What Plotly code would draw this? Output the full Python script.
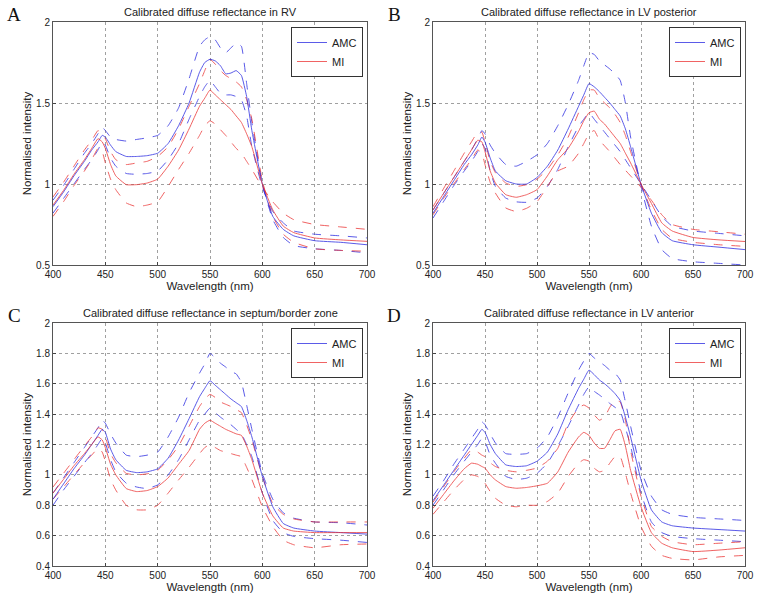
import plotly.graph_objects as go

# ---------------- data ----------------
W = [400, 410, 420, 430, 437, 443, 447, 450, 455, 460, 470, 480, 490, 500, 510, 520, 530, 540, 545,
     550, 555, 560, 565, 570, 575, 580, 585, 590, 600, 610, 620, 630, 650, 675, 700]

# Panel A: RV
A_amc_hi = [0.90, 0.99, 1.09, 1.19, 1.25, 1.31, 1.35, 1.33, 1.29, 1.275, 1.265, 1.275, 1.285, 1.30, 1.36, 1.47, 1.65, 1.85, 1.89,
            1.91, 1.89, 1.84, 1.81, 1.84, 1.87, 1.85, 1.62, 1.38, 1.00, 0.78, 0.67, 0.62, 0.60, 0.59, 0.575]
A_amc_mean = [0.86, 0.95, 1.05, 1.14, 1.21, 1.26, 1.30, 1.29, 1.24, 1.20, 1.17, 1.17, 1.175, 1.19, 1.25, 1.36, 1.50, 1.69, 1.75,
              1.77, 1.76, 1.73, 1.68, 1.685, 1.70, 1.67, 1.54, 1.33, 1.00, 0.80, 0.72, 0.68, 0.65, 0.64, 0.625]
A_amc_lo = [0.82, 0.91, 1.00, 1.09, 1.15, 1.21, 1.26, 1.24, 1.16, 1.11, 1.065, 1.06, 1.065, 1.08, 1.15, 1.25, 1.40, 1.54, 1.60,
            1.64, 1.60, 1.56, 1.55, 1.55, 1.54, 1.52, 1.42, 1.23, 0.98, 0.83, 0.76, 0.71, 0.69, 0.68, 0.667]
A_mi_hi = [0.92, 1.01, 1.11, 1.21, 1.27, 1.33, 1.31, 1.28, 1.20, 1.15, 1.12, 1.13, 1.14, 1.17, 1.23, 1.34, 1.48, 1.62, 1.70,
           1.77, 1.74, 1.70, 1.67, 1.65, 1.63, 1.60, 1.52, 1.40, 1.02, 0.80, 0.69, 0.64, 0.60, 0.59, 0.585]
A_mi_mean = [0.87, 0.96, 1.06, 1.15, 1.22, 1.28, 1.26, 1.22, 1.12, 1.05, 0.996, 0.996, 1.006, 1.03, 1.11, 1.21, 1.34, 1.48, 1.53,
             1.58, 1.55, 1.52, 1.49, 1.46, 1.42, 1.38, 1.31, 1.23, 1.00, 0.84, 0.74, 0.70, 0.667, 0.655, 0.646]
A_mi_lo = [0.80, 0.89, 0.99, 1.08, 1.15, 1.22, 1.20, 1.13, 1.03, 0.965, 0.883, 0.86, 0.87, 0.89, 0.985, 1.09, 1.19, 1.30, 1.36,
           1.39, 1.37, 1.335, 1.30, 1.26, 1.22, 1.19, 1.14, 1.09, 0.98, 0.89, 0.82, 0.78, 0.75, 0.735, 0.72]

# Panel B: LV posterior
B_amc_hi = [0.84, 0.94, 1.04, 1.14, 1.21, 1.28, 1.33, 1.31, 1.24, 1.19, 1.12, 1.11, 1.14, 1.18, 1.25, 1.36, 1.49, 1.64, 1.73,
            1.81, 1.80, 1.76, 1.735, 1.71, 1.68, 1.64, 1.50, 1.29, 0.985, 0.74, 0.595, 0.54, 0.52, 0.51, 0.50]
B_amc_mean = [0.82, 0.92, 1.02, 1.12, 1.18, 1.24, 1.29, 1.26, 1.16, 1.08, 1.02, 1.00, 1.00, 1.04, 1.11, 1.21, 1.34, 1.48, 1.55,
              1.62, 1.60, 1.57, 1.535, 1.50, 1.46, 1.42, 1.34, 1.23, 1.00, 0.82, 0.70, 0.65, 0.625, 0.61, 0.595]
B_amc_lo = [0.79, 0.89, 0.99, 1.08, 1.14, 1.20, 1.25, 1.22, 1.08, 0.985, 0.913, 0.89, 0.887, 0.913, 0.985, 1.09, 1.23, 1.356, 1.40,
            1.44, 1.40, 1.36, 1.32, 1.28, 1.24, 1.20, 1.15, 1.10, 1.00, 0.90, 0.80, 0.74, 0.71, 0.695, 0.68]
B_mi_hi = [0.86, 0.97, 1.08, 1.19, 1.26, 1.32, 1.32, 1.26, 1.14, 1.07, 1.006, 0.985, 0.996, 1.03, 1.09, 1.18, 1.29, 1.44, 1.52,
           1.58, 1.58, 1.53, 1.50, 1.47, 1.43, 1.38, 1.30, 1.20, 1.00, 0.84, 0.72, 0.665, 0.64, 0.625, 0.615]
B_mi_mean = [0.84, 0.94, 1.04, 1.14, 1.21, 1.27, 1.26, 1.20, 1.08, 1.006, 0.934, 0.918, 0.934, 0.965, 1.05, 1.15, 1.22, 1.325, 1.39,
             1.44, 1.45, 1.40, 1.37, 1.33, 1.29, 1.25, 1.19, 1.13, 1.00, 0.88, 0.76, 0.71, 0.67, 0.655, 0.645]
B_mi_lo = [0.81, 0.91, 1.00, 1.09, 1.15, 1.21, 1.19, 1.12, 1.01, 0.944, 0.852, 0.83, 0.85, 0.89, 0.985, 1.08, 1.11, 1.19, 1.25,
           1.31, 1.33, 1.27, 1.235, 1.20, 1.16, 1.12, 1.085, 1.05, 0.98, 0.90, 0.81, 0.75, 0.72, 0.705, 0.69]

# Panel C: septum/border zone
C_amc_hi = [0.88, 0.98, 1.08, 1.18, 1.25, 1.31, 1.36, 1.34, 1.27, 1.21, 1.13, 1.12, 1.13, 1.15, 1.25, 1.38, 1.54, 1.67, 1.73,
            1.80, 1.77, 1.735, 1.71, 1.68, 1.665, 1.61, 1.46, 1.30, 1.01, 0.84, 0.75, 0.715, 0.69, 0.685, 0.67]
C_amc_mean = [0.84, 0.94, 1.04, 1.13, 1.20, 1.26, 1.30, 1.28, 1.17, 1.10, 1.03, 1.015, 1.02, 1.04, 1.11, 1.23, 1.37, 1.515, 1.57,
              1.62, 1.59, 1.56, 1.53, 1.50, 1.475, 1.45, 1.36, 1.25, 0.99, 0.79, 0.68, 0.65, 0.63, 0.62, 0.61]
C_amc_lo = [0.80, 0.90, 0.99, 1.08, 1.14, 1.20, 1.24, 1.21, 1.10, 1.02, 0.945, 0.92, 0.91, 0.934, 1.00, 1.10, 1.23, 1.36, 1.40,
            1.44, 1.41, 1.38, 1.355, 1.33, 1.30, 1.27, 1.20, 1.12, 0.88, 0.70, 0.62, 0.595, 0.58, 0.57, 0.555]
C_mi_hi = [0.92, 1.01, 1.10, 1.19, 1.25, 1.31, 1.30, 1.25, 1.14, 1.08, 1.01, 1.00, 1.007, 1.03, 1.10, 1.19, 1.32, 1.45, 1.50,
           1.53, 1.51, 1.48, 1.465, 1.45, 1.43, 1.41, 1.33, 1.23, 0.99, 0.81, 0.74, 0.71, 0.69, 0.69, 0.69]
C_mi_mean = [0.88, 0.97, 1.06, 1.14, 1.20, 1.25, 1.23, 1.18, 1.07, 1.00, 0.91, 0.89, 0.897, 0.923, 0.98, 1.07, 1.16, 1.30, 1.34,
             1.36, 1.34, 1.32, 1.30, 1.285, 1.27, 1.26, 1.19, 1.10, 0.88, 0.73, 0.65, 0.63, 0.62, 0.62, 0.62]
C_mi_lo = [0.84, 0.92, 1.00, 1.08, 1.13, 1.175, 1.15, 1.09, 0.97, 0.90, 0.80, 0.77, 0.77, 0.80, 0.88, 0.967, 1.05, 1.14, 1.18,
           1.20, 1.18, 1.16, 1.15, 1.14, 1.13, 1.12, 1.05, 0.97, 0.79, 0.66, 0.57, 0.54, 0.52, 0.54, 0.545]

# Panel D: LV anterior
D_amc_hi = [0.86, 0.96, 1.07, 1.17, 1.24, 1.30, 1.35, 1.33, 1.27, 1.21, 1.14, 1.135, 1.14, 1.175, 1.25, 1.38, 1.54, 1.69, 1.75,
            1.80, 1.77, 1.745, 1.72, 1.69, 1.67, 1.625, 1.48, 1.32, 1.03, 0.86, 0.77, 0.74, 0.72, 0.71, 0.70]
D_amc_mean = [0.83, 0.93, 1.03, 1.13, 1.20, 1.26, 1.30, 1.28, 1.20, 1.14, 1.066, 1.055, 1.06, 1.09, 1.15, 1.27, 1.43, 1.57, 1.63,
              1.69, 1.66, 1.625, 1.60, 1.57, 1.535, 1.49, 1.38, 1.25, 0.967, 0.77, 0.69, 0.665, 0.65, 0.64, 0.63]
D_amc_lo = [0.80, 0.90, 1.00, 1.09, 1.15, 1.20, 1.24, 1.22, 1.13, 1.077, 0.99, 0.97, 0.978, 1.01, 1.077, 1.19, 1.32, 1.46, 1.53,
            1.58, 1.55, 1.526, 1.50, 1.47, 1.445, 1.42, 1.31, 1.19, 0.88, 0.69, 0.62, 0.595, 0.58, 0.57, 0.56]
D_mi_hi = [0.82, 0.92, 1.02, 1.11, 1.165, 1.15, 1.13, 1.12, 1.08, 1.055, 1.03, 1.02, 1.03, 1.045, 1.09, 1.175, 1.34, 1.44, 1.46,
           1.44, 1.395, 1.36, 1.38, 1.445, 1.49, 1.48, 1.36, 1.16, 0.86, 0.66, 0.595, 0.56, 0.54, 0.55, 0.56]
D_mi_mean = [0.78, 0.87, 0.96, 1.04, 1.077, 1.07, 1.055, 1.045, 1.00, 0.967, 0.923, 0.912, 0.917, 0.928, 0.945, 1.02, 1.15, 1.25, 1.28,
             1.26, 1.21, 1.175, 1.175, 1.23, 1.29, 1.30, 1.19, 1.03, 0.79, 0.62, 0.55, 0.52, 0.495, 0.505, 0.52]
D_mi_lo = [0.74, 0.82, 0.90, 0.97, 1.00, 0.99, 0.97, 0.945, 0.89, 0.846, 0.80, 0.79, 0.80, 0.80, 0.825, 0.88, 0.99, 1.077, 1.10,
           1.09, 1.044, 1.02, 1.03, 1.077, 1.12, 1.12, 1.01, 0.88, 0.66, 0.53, 0.47, 0.45, 0.44, 0.46, 0.47]

TITLES = ["Calibrated diffuse reflectance in RV",
          "Calibrated diffuse reflectance in LV posterior",
          "Calibrated diffuse reflectance in septum/border zone",
          "Calibrated diffuse reflectance in LV anterior"]
LETTERS = ["A", "B", "C", "D"]
SERIES_NAMES = ["AMC", "MI"]
X_TICKS = [400, 450, 500, 550, 600, 650, 700]
Y_TICKS_AB = [0.5, 1, 1.5, 2]
Y_TICKS_CD = [0.4, 0.6, 0.8, 1, 1.2, 1.4, 1.6, 1.8, 2]

panels = [
    (A_amc_hi, A_amc_mean, A_amc_lo, A_mi_hi, A_mi_mean, A_mi_lo),
    (B_amc_hi, B_amc_mean, B_amc_lo, B_mi_hi, B_mi_mean, B_mi_lo),
    (C_amc_hi, C_amc_mean, C_amc_lo, C_mi_hi, C_mi_mean, C_mi_lo),
    (D_amc_hi, D_amc_mean, D_amc_lo, D_mi_hi, D_mi_mean, D_mi_lo),
]

# ---------------- layout geometry (page pixels; body margin removed by post_script) ----------------
FW, FH = 759, 602
PX = [(53, 367), (433, 745), (53, 367), (433, 745)]
PY = [(22, 265), (22, 265), (323, 566), (323, 566)]


def fx(px):
    return px / FW


def fy(py):
    return 1 - py / FH


BLUE = "rgb(40,40,225)"
RED = "rgb(235,50,50)"
FONT = "Liberation Sans, Arial, sans-serif"

fig = go.Figure()
layout = dict(width=FW, height=FH, margin=dict(l=0, r=0, t=0, b=0, autoexpand=False),
              paper_bgcolor="white", plot_bgcolor="white", template="none",
              font=dict(family=FONT, size=10, color="#222"), annotations=[])

for i, data in enumerate(panels):
    k = "" if i == 0 else str(i + 1)
    xa, ya = "x" + k, "y" + k
    lg = "legend" + k
    amc_hi, amc_mean, amc_lo, mi_hi, mi_mean, mi_lo = data
    for vals, col, name, show in [
        (amc_hi, BLUE, "AMC", False), (amc_lo, BLUE, "AMC", False),
        (mi_hi, RED, "MI", False), (mi_lo, RED, "MI", False),
        (amc_mean, BLUE, "AMC", True), (mi_mean, RED, "MI", True),
    ]:
        fig.add_trace(go.Scatter(
            x=W, y=vals, mode="lines", name=name, xaxis=xa, yaxis=ya,
            legend=lg, showlegend=show,
            line=dict(color=col, width=0.9, dash="solid" if show else "dash",
                      shape="spline", smoothing=0.4),
            opacity=0.85,
        ))

    x0, x1 = PX[i]
    y0, y1 = PY[i]
    ab = i < 2
    layout["xaxis" + k] = dict(
        domain=[fx(x0), fx(x1)], anchor=ya, range=[400, 700], automargin=False,
        tickvals=X_TICKS, ticks="inside", ticklen=3, tickcolor="#444",
        showline=True, mirror=True, linecolor="#555", linewidth=1,
        showgrid=True, gridcolor="#a0a0a0", griddash="dot", gridwidth=1,
        zeroline=False, tickfont=dict(size=10, color="#222"),
        title=dict(text="Wavelength (nm)", font=dict(size=11.5, color="#222"), standoff=2),
    )
    layout["yaxis" + k] = dict(
        domain=[fy(y1), fy(y0)], anchor=xa, automargin=False,
        range=[0.5, 2] if ab else [0.4, 2],
        tickvals=Y_TICKS_AB if ab else Y_TICKS_CD,
        ticktext=[("%g" % v) for v in (Y_TICKS_AB if ab else Y_TICKS_CD)],
        ticks="inside", ticklen=3, tickcolor="#444",
        showline=True, mirror=True, linecolor="#555", linewidth=1,
        showgrid=True, gridcolor="#a0a0a0", griddash="dot", gridwidth=1,
        zeroline=False, tickfont=dict(size=10, color="#222"),
        title=dict(text="Normalised intensity", font=dict(size=11.5, color="#222"), standoff=2),
    )
    layout[lg] = dict(
        x=fx(x1 - 4), y=fy(y0 + 5), xanchor="right", yanchor="top",
        bgcolor="white", bordercolor="#333", borderwidth=1,
        font=dict(size=11, color="#222", family=FONT),
        tracegroupgap=0, itemwidth=30,
    )
    layout["annotations"].append(dict(
        text=TITLES[i], x=fx((x0 + x1) / 2), y=fy(y0 - 10),
        xref="paper", yref="paper", showarrow=False, xanchor="center", yanchor="middle",
        font=dict(size=11, color="#222", family=FONT)))
    layout["annotations"].append(dict(
        text=LETTERS[i], x=fx(14 if i % 2 == 0 else 394), y=fy(y0 - 8),
        xref="paper", yref="paper", showarrow=False, xanchor="center", yanchor="middle",
        font=dict(size=19, color="#111", family="Liberation Serif, Times New Roman, serif")))

fig.update_layout(**layout)
fig.write_html("out.html", config={"displayModeBar": False},
               post_script="document.body.style.margin='0';document.body.style.overflow='hidden';")
